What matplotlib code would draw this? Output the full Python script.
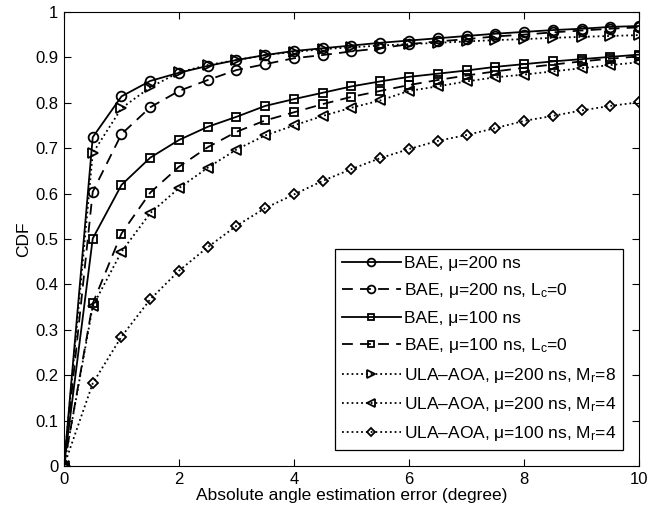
import numpy as np
import matplotlib
matplotlib.use("Agg")
import matplotlib.pyplot as plt

plt.rcParams['font.family'] = ['Liberation Sans', 'DejaVu Sans']
plt.rcParams['mathtext.fontset'] = 'custom'
plt.rcParams['mathtext.rm'] = 'Liberation Sans'
plt.rcParams['mathtext.it'] = 'Liberation Sans'

# Data
err = [0, 0.5, 1, 1.5, 2, 2.5, 3, 3.5, 4, 4.5, 5, 5.5, 6, 6.5, 7, 7.5, 8, 8.5, 9, 9.5, 10]

bae_200 = [0, 0.724, 0.814, 0.848, 0.866, 0.881, 0.894, 0.905, 0.914, 0.920, 0.926,
           0.932, 0.937, 0.942, 0.947, 0.952, 0.956, 0.960, 0.963, 0.967, 0.969]
bae_200_lc0 = [0, 0.604, 0.731, 0.790, 0.826, 0.850, 0.872, 0.885, 0.898, 0.905, 0.913,
               0.920, 0.929, 0.935, 0.940, 0.946, 0.950, 0.955, 0.959, 0.963, 0.966]
bae_100 = [0, 0.501, 0.619, 0.679, 0.718, 0.747, 0.769, 0.793, 0.808, 0.822, 0.836,
           0.847, 0.857, 0.864, 0.871, 0.879, 0.885, 0.891, 0.896, 0.901, 0.906]
bae_100_lc0 = [0, 0.358, 0.512, 0.602, 0.659, 0.702, 0.736, 0.761, 0.779, 0.797, 0.813,
               0.826, 0.839, 0.850, 0.860, 0.869, 0.877, 0.884, 0.891, 0.897, 0.902]
ula_200_m8 = [0, 0.689, 0.788, 0.834, 0.867, 0.883, 0.894, 0.905, 0.912, 0.918, 0.922,
              0.926, 0.929, 0.932, 0.935, 0.938, 0.940, 0.943, 0.945, 0.947, 0.949]
ula_200_m4 = [0, 0.352, 0.472, 0.557, 0.612, 0.657, 0.697, 0.728, 0.750, 0.771, 0.789,
              0.805, 0.826, 0.836, 0.847, 0.856, 0.862, 0.869, 0.876, 0.883, 0.889]
ula_100_m4 = [0, 0.182, 0.285, 0.367, 0.430, 0.482, 0.529, 0.568, 0.598, 0.628, 0.654,
              0.678, 0.698, 0.716, 0.729, 0.744, 0.760, 0.771, 0.783, 0.793, 0.801]

labels = [
    "BAE, μ=200 ns",
    "BAE, μ=200 ns, L$_\\mathrm{c}$=0",
    "BAE, μ=100 ns",
    "BAE, μ=100 ns, L$_\\mathrm{c}$=0",
    "ULA–AOA, μ=200 ns, M$_\\mathrm{r}$=8",
    "ULA–AOA, μ=200 ns, M$_\\mathrm{r}$=4",
    "ULA–AOA, μ=100 ns, M$_\\mathrm{r}$=4",
]
series = [bae_200, bae_200_lc0, bae_100, bae_100_lc0, ula_200_m8, ula_200_m4, ula_100_m4]
styles = [("-", "o", 7), ("--", "o", 7), ("-", "s", 5.5), ("--", "s", 5.5),
          (":", ">", 6.5), (":", "<", 6.5), (":", "D", 5.5)]

FS = 12.5

fig = plt.figure(figsize=(6.49, 5.16), dpi=100)
ax = fig.add_axes([0.0986, 0.0969, 0.886, 0.880])

for y, lab, (ls, mk, ms) in zip(series, labels, styles):
    line, = ax.plot(err, y, linestyle=ls, marker=mk, markersize=ms, color="black",
                    markerfacecolor="none", markeredgewidth=1.3, linewidth=1.3, label=lab)
    if ls == "--":
        line.set_dashes((6, 4))

ax.set_xlim(0, 10)
ax.set_ylim(0, 1)
ax.set_xticks([0, 2, 4, 6, 8, 10])
ax.set_yticks(np.arange(0, 1.01, 0.1))
ax.set_yticklabels(["0", "0.1", "0.2", "0.3", "0.4", "0.5", "0.6", "0.7", "0.8", "0.9", "1"])
ax.tick_params(direction="in", top=True, right=True, labelsize=12, length=5, pad=4)
ax.set_xlabel("Absolute angle estimation error (degree)", fontsize=FS, labelpad=1)
ax.set_ylabel("CDF", fontsize=FS, labelpad=3)

leg = ax.legend(loc="lower right", fontsize=FS, numpoints=1, handlelength=3.4,
                handletextpad=0.2, labelspacing=0.6, fancybox=False, framealpha=1,
                edgecolor="black", borderaxespad=0.9, markerscale=0.8)
leg.get_frame().set_linewidth(0.9)

fig.savefig("out.png", dpi=100)
